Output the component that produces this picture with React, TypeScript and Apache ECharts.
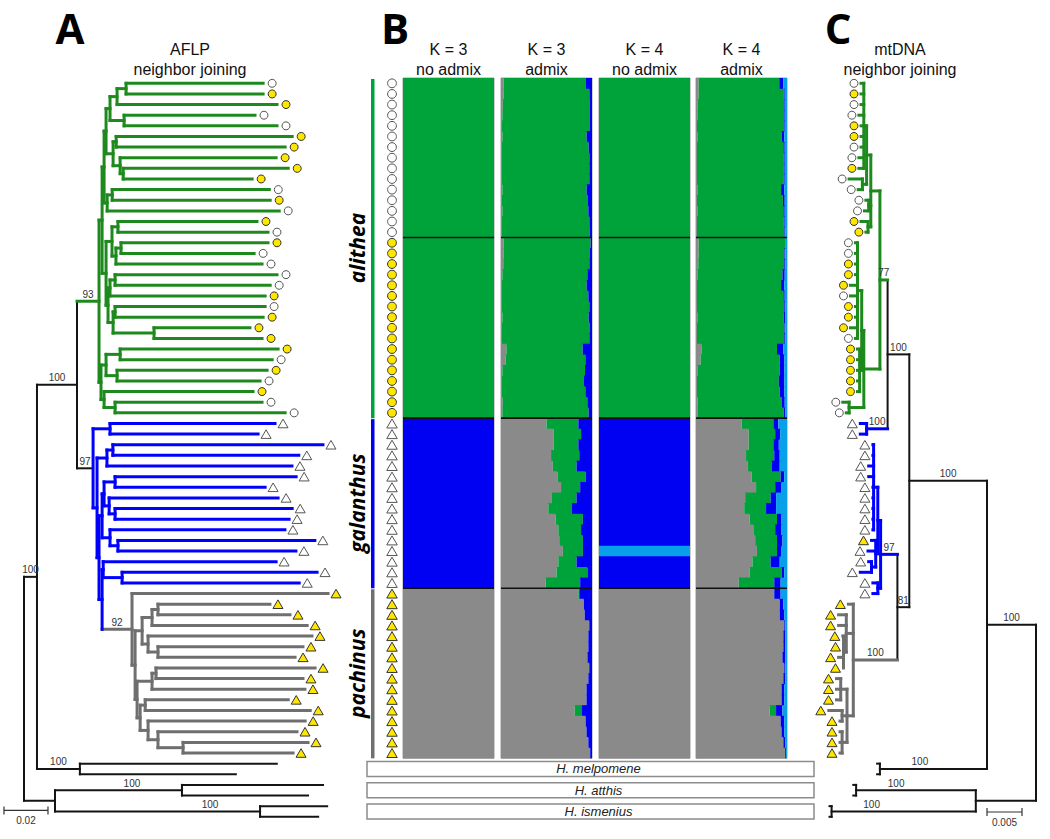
import React, { useEffect, useRef } from "react";
import * as echarts from "echarts";

// ---------------- colours ----------------
const TREE_COLORS = ["#141414", "#1e8a1e", "#0000ff", "#6f6f6f"]; // black, green, blue, gray
const STRUCT_COLORS = ["#00a33a", "#0000f2", "#8a8a8a", "#08a0e8"]; // green, blue, gray, light blue
const SIDE_COLORS = ["#00a33a", "#0000f2", "#707070"];
const YELLOW = "#ffe600";

// ---------------- Panel A: AFLP neighbour-joining tree (branch lengths x 10^-3) ----------------
// leaf codes: w = white circle, y = yellow circle, W = white triangle, Y = yellow triangle, o = outgroup
const aflpAli1 = "(((w0:62.3,y1:62.3):4.1,y2:72.7):3.2,(w3:59.5,w4:69.5):6.4)";
const aflpAli2 = "((y5:80.0,y6:76.8):1.4,(y7:70.9,(y8:75.0,y9:58.6):1.4):3.2)";
const aflpAli3 = "((w10:71.4,y11:71.8):2.3,w12:78.2)";
const aflpAli4 = "((y13:63.2,w14:68.2):2.7,((y15:66.8,w16:60.5):2.3,w17:66.4):1.8)";
const aflpAli5 = "((w18:73.6,w19:70.5):2.3,y20:70.5)";
const aflpAli6 = "((w21:68.2,y22:67.3):0.9,(y23:43.6,y24:49.1):18.6)";
const aflpAli7 = "((y25:71.8,w26:69.1):6.4,(y27:68.2,w28:65.0):5.0)";
const aflpAli8 = "(y29:67.7,(w30:66.8,w31:77.3):5.0)";
const aflpAlithea = `((((${aflpAli1}:1.8,${aflpAli2}:3.2):0.9,${aflpAli3}:1.4):0.9,(${aflpAli4}:2.7,(${aflpAli5}:0.9,${aflpAli6}:2.3):0.9):1.8):1.4,(${aflpAli7}:2.3,${aflpAli8}:1.4):0.9)93#g`;

const aflpGal1 = "(W32:75.0,W33:67.3)";
const aflpGal2 = "((W34:95.5,W35:84.5):2.7,W36:84.1)";
const aflpGal3 = "((W37:82.3,W38:68.2):5.0,(W39:76.8,(W40:80.5,W41:79.1):2.7):2.3)";
const aflpGal4 = "(W42:79.5,(W43:89.5,W44:80.9):3.6)";
const aflpGal5 = "(W45:78.6,(W46:88.6,W47:80.5):8.6)";
const aflpPac1 = "(((Y49:50.9,Y50:60.0):2.7,Y51:70.5):4.5,(Y52:74.5,(Y53:65.9,Y54:62.3):4.5):2.7)";
const aflpPac2 = "(((Y55:72.3,Y56:66.8):1.8,Y57:69.5):6.8,((Y58:65.0,Y59:75.0):2.3,(Y60:71.4,(Y61:63.2,(Y62:56.8,Y63:50.0):11.4):4.5):3.6):1.4)";
const aflpPachinus = `(Y48:89.1,(${aflpPac1}:3.2,${aflpPac2}:0.9):1.4)92#k`;
const aflpGalPach = `(${aflpGal1}:7.7,(${aflpGal2}:4.5,((${aflpGal3}:0.9,${aflpGal4}:3.6):1.4,(${aflpGal5}:0.5,${aflpPachinus}:13.6):1.4):0.9):1.8)97#b-`;
const aflpIngroup = `(${aflpAlithea}:10.0,${aflpGalPach}:7.3)100`;
const aflpTree = `((${aflpIngroup}:18.2,(o64:89.5,o65:70.9)100:19.5)100:5.9,((o66:64.1,o67:57.3)100:57.7,(o68:30.5,o69:26.4)100:93.2):14.1);`;

// ---------------- Panel C: mtDNA neighbour-joining tree (branch lengths x 10^-3) ----------------
const mtUpperA = "(w0:0.4,y1:0.4,w2:0.4,w3:0.7,y4:0.4,y5:0.4,w6:0.4,w7:0.7,y8:0.7)";
const mtUpperB = "(w9:1.9,w10:0.6)";
const mtUpperC = "(w11:0.4,w12:0.6)";
const mtUpperD = "(y13:1.0,y14:0.3)";
const mtLowerA = "(w15:0.3,w16:0.3,y17:0.3,y18:0.3,y19:1.0,w20:1.0,y21:0.3,y22:0.3,y23:1.0,w24:0.3)";
const mtLowerB = "(y25:0.3,y26:0.3,y27:0.3,y28:0.3,y29:0.3)";
const mtLowerC = "(w30:0.9,w31:0.4)";
const mtAlithea = `(((${mtUpperA}:0.4,${mtUpperB}:0.6):0.6,${mtUpperC}:0.3,${mtUpperD}:0.4):1.3,((${mtLowerA}:0.6,${mtLowerB}:0.3):0.3,${mtLowerC}:2.1):2.3)77#g`;
const mtBluePair = "(W32:0.9,W33:0.9)100#b";
const mtBlue1 = "(W34:0.1,W35:0.1,W36:0.7,W37:0.7,W38:0.1,W39:0.1,W40:0.1,W41:0.1,W42:0.1)";
const mtBlue2 = "(Y43:0.6,W44:1.1,(W45:0.4,W46:1.6):0.6)";
const mtBlue3 = "(W47:0.7,W48:0.7)";
const mtBlue = `((${mtBlue1}:0.6,${mtBlue2}:0.3):0.4,${mtBlue3}:0.4)97#b`;
const mtGray = "(Y49:0.7,(Y50:1.1,Y51:1.1,(Y52:0.1,Y53:0.0,Y54:0.7,Y55:0.0):0.4):1.0,((Y56:0.6,Y57:0.6,Y58:0.6):0.9,(Y59:1.9,Y60:0.3):0.7,(Y61:0.3,Y62:0.3,Y63:0.3):0.7):0.9)100#k";
const mtIngroup = `((${mtAlithea}:1.1,${mtBluePair}:3.0)100:3.1,(${mtBlue}:2.4,${mtGray}:6.3)81:1.7)100`;
const mtTree = `((${mtIngroup}:11.1,(o64:0.4,o65:0.4)100:15.3)100:7.0,((o66:0.4,o67:0.4)100:17.1,(o68:0.3,o69:0.3)100:20.6):8.6);`;

// ---------------- Panel B: STRUCTURE assignments (64 individuals) ----------------
const sampleMarkers = "wwwwwwwwwwwwwwwyyyyyyyyyyyyyyyyyWWWWWWWWWWWWWWWWYYYYYYYYYYYYYYYY";
const groupNames = ["alithea", "galanthus", "pachinus"];
const groupFirstRow = [0, 32, 48];
const groupLastRow = [31, 47, 63];
const structBreaks = [15, 32, 48];
// cluster: 0 green, 1 blue, 2 gray, 3 light blue
const k3NoAdmix = [
  0, 0, 0, 0, 0, 0, 0, 0, 0, 0, 0, 0, 0, 0, 0, 0, 0, 0, 0, 0, 0, 0, 0, 0, 0, 0, 0, 0, 0, 0, 0, 0,
  1, 1, 1, 1, 1, 1, 1, 1, 1, 1, 1, 1, 1, 1, 1, 1,
  2, 2, 2, 2, 2, 2, 2, 2, 2, 2, 2, 2, 2, 2, 2, 2,
];
const k4NoAdmix = [
  0, 0, 0, 0, 0, 0, 0, 0, 0, 0, 0, 0, 0, 0, 0, 0, 0, 0, 0, 0, 0, 0, 0, 0, 0, 0, 0, 0, 0, 0, 0, 0,
  1, 1, 1, 1, 1, 1, 1, 1, 1, 1, 1, 1, 3, 1, 1, 1,
  2, 2, 2, 2, 2, 2, 2, 2, 2, 2, 2, 2, 2, 2, 2, 2,
];
const k3AdmixGray = [
  0.03, 0.03, 0.02, 0.015, 0.01, 0.015, 0.01, 0.01, 0.01, 0.01, 0.015, 0.01, 0.015, 0.01, 0.01, 0.03,
  0.03, 0.025, 0.015, 0.01, 0.01, 0.01, 0.015, 0.01, 0.01, 0.06, 0.05, 0.015, 0.01, 0.01, 0.02, 0.015,
  0.5, 0.58, 0.58, 0.55, 0.57, 0.62, 0.66, 0.56, 0.52, 0.6, 0.63, 0.64, 0.68, 0.63, 0.61, 0.49,
  0.85, 0.91, 0.92, 0.97, 0.96, 0.96, 0.95, 0.97, 0.96, 0.94, 0.94, 0.81, 0.93, 0.94, 0.96, 0.98,
];
const k3AdmixBlue = [
  0.066, 0.029, 0.022, 0.022, 0.022, 0.059, 0.037, 0.029, 0.029, 0.029, 0.059, 0.044, 0.04, 0.029, 0.022, 0.015,
  0.022, 0.029, 0.051, 0.059, 0.04, 0.029, 0.037, 0.022, 0.029, 0.103, 0.073, 0.077, 0.088, 0.073, 0.051, 0.037,
  0.15, 0.12, 0.15, 0.14, 0.17, 0.07, 0.13, 0.17, 0.22, 0.1, 0.12, 0.1, 0.1, 0.17, 0.05, 0.13,
  0.14, 0.09, 0.08, 0.03, 0.04, 0.04, 0.05, 0.03, 0.04, 0.06, 0.06, 0.11, 0.07, 0.06, 0.04, 0.02,
];
const k4AdmixGray = [
  0.03, 0.03, 0.02, 0.015, 0.01, 0.015, 0.01, 0.01, 0.01, 0.01, 0.015, 0.01, 0.015, 0.01, 0.01, 0.03,
  0.03, 0.025, 0.015, 0.01, 0.01, 0.01, 0.015, 0.01, 0.01, 0.06, 0.05, 0.015, 0.01, 0.01, 0.02, 0.015,
  0.5, 0.58, 0.58, 0.55, 0.57, 0.61, 0.66, 0.54, 0.53, 0.59, 0.63, 0.65, 0.67, 0.62, 0.59, 0.47,
  0.85, 0.92, 0.92, 0.97, 0.96, 0.96, 0.95, 0.97, 0.96, 0.94, 0.94, 0.81, 0.93, 0.94, 0.96, 0.98,
];
const k4AdmixBlue = [
  0.045, 0.01, 0.008, 0.008, 0.008, 0.03, 0.015, 0.01, 0.01, 0.01, 0.035, 0.02, 0.015, 0.01, 0.008, 0.005,
  0.008, 0.01, 0.025, 0.035, 0.015, 0.01, 0.015, 0.008, 0.01, 0.07, 0.05, 0.05, 0.06, 0.05, 0.03, 0.015,
  0.055, 0.055, 0.06, 0.06, 0.09, 0.04, 0.07, 0.06, 0.11, 0.05, 0.07, 0.06, 0.05, 0.1, 0.03, 0.07,
  0.07, 0.04, 0.05, 0.01, 0.02, 0.02, 0.03, 0.01, 0.02, 0.03, 0.03, 0.07, 0.04, 0.03, 0.02, 0.01,
];
const k4AdmixLight = [
  0.04, 0.025, 0.025, 0.025, 0.025, 0.03, 0.025, 0.025, 0.025, 0.025, 0.03, 0.025, 0.025, 0.025, 0.02, 0.015,
  0.02, 0.02, 0.025, 0.03, 0.025, 0.02, 0.02, 0.02, 0.02, 0.04, 0.03, 0.03, 0.03, 0.03, 0.025, 0.02,
  0.095, 0.075, 0.09, 0.08, 0.08, 0.03, 0.06, 0.12, 0.12, 0.06, 0.06, 0.05, 0.06, 0.08, 0.03, 0.07,
  0.07, 0.04, 0.03, 0.02, 0.02, 0.02, 0.02, 0.02, 0.02, 0.03, 0.03, 0.05, 0.03, 0.03, 0.02, 0.01,
];
const structTitles = ["K = 3", "K = 3", "K = 4", "K = 4"];
const structSubtitles = ["no admix", "admix", "no admix", "admix"];
const outgroupNames = ["H. melpomene", "H. atthis", "H. ismenius"];
const outgroupRows = [64.5, 66.5, 68.5];

// scale bars: [start, length, row]
const scaleA = [-9.1, 20, 68.4];
const scaleC = [2, 5, 68.55];

// ---------------- tree helpers ----------------
type TNode = { name: string; len: number; label: string; children: TNode[]; depth: number; y: number };

function parseNewick(src: string): TNode {
  let i = 0;
  const stop = (ch: string) => ch === ":" || ch === "," || ch === ")" || ch === ";" || ch === "(";
  const read = () => {
    let t = "";
    while (i < src.length && !stop(src[i])) t += src[i++];
    return t.trim();
  };
  const node = (): TNode => {
    const n: TNode = { name: "", len: 0, label: "", children: [], depth: 0, y: 0 };
    if (src[i] === "(") {
      i++;
      n.children.push(node());
      while (src[i] === ",") {
        i++;
        n.children.push(node());
      }
      i++;
      n.label = read();
    } else n.name = read();
    if (src[i] === ":") {
      i++;
      n.len = parseFloat(read());
    }
    return n;
  };
  return node();
}

const COLOR_KEYS: Record<string, number> = { g: 1, b: 2, k: 3 };

function layoutTree(src: string) {
  const root = parseNewick(src);
  const segs: number[][] = [];
  const tips: number[][] = [];
  const sups: number[][] = [];
  const supTexts: string[] = [];
  let row = 0;
  const walk = (n: TNode, parent: TNode | null, parentColor: number) => {
    const [sup, tag] = n.label.split("#");
    let color = parentColor;
    let inColor = parentColor;
    if (tag) {
      color = COLOR_KEYS[tag[0]];
      inColor = tag.endsWith("-") ? parentColor : color;
    }
    n.depth = parent ? parent.depth + n.len : 0;
    if (!n.children.length) {
      n.y = row++;
      const code = "wyWY".indexOf(n.name[0]);
      if (code >= 0) tips.push([n.depth, n.y, code]);
    } else {
      n.children.forEach((c) => walk(c, n, color));
      const first = n.children[0];
      const last = n.children[n.children.length - 1];
      n.y = (first.y + last.y) / 2;
      segs.push([n.depth, first.y, n.depth, last.y, color]);
    }
    if (parent) {
      segs.push([parent.depth, n.y, n.depth, n.y, inColor]);
      if (sup) {
        sups.push([parent.depth, n.depth, n.y]);
        supTexts.push(sup);
      }
    }
  };
  walk(root, null, 0);
  segs.sort((a, b) => (a[4] === 0 ? 0 : 1) - (b[4] === 0 ? 0 : 1));
  return { segs, tips, sups, supTexts };
}

function markerEl(code: number, cx: number, cy: number, big: boolean): any {
  const yellow = code === 1 || code === 3;
  const fill = yellow ? YELLOW : "#ffffff";
  const stroke = yellow ? "#333333" : "#555555";
  if (code <= 1) {
    return { type: "circle", shape: { cx, cy, r: big ? 4.4 : 4.0 }, style: { fill, stroke, lineWidth: 1 } };
  }
  const w = big ? 10.5 : 10;
  const h = big ? 9 : 8.6;
  return {
    type: "polygon",
    shape: { points: [[cx, cy - h / 2], [cx + w / 2, cy + h / 2], [cx - w / 2, cy + h / 2]] },
    style: { fill, stroke, lineWidth: 1, lineJoin: "miter" },
  };
}

const FONT = "Liberation Sans, Arial, Helvetica, sans-serif";

function treeSeries(src: string, axis: number, markerOffsets: number[], labelReach: number, scale: number[], scaleText: string) {
  const { segs, tips, sups, supTexts } = layoutTree(src);
  const labelData = sups.map(([from, to, y]) => [Math.max((from + to) / 2, to - labelReach), y]);
  return [
    {
      type: "custom",
      xAxisIndex: axis,
      yAxisIndex: axis,
      silent: true,
      data: segs,
      encode: { x: [0, 2], y: [1, 3] },
      renderItem: (_p: any, api: any) => {
        const a = api.coord([api.value(0), api.value(1)]);
        const b = api.coord([api.value(2), api.value(3)]);
        const c = api.value(4) as number;
        return {
          type: "line",
          shape: { x1: a[0], y1: a[1], x2: b[0], y2: b[1] },
          style: { stroke: TREE_COLORS[c], lineWidth: c === 0 ? 2 : 3, lineCap: "square" },
        };
      },
    },
    {
      type: "custom",
      xAxisIndex: axis,
      yAxisIndex: axis,
      silent: true,
      data: tips,
      encode: { x: 0, y: 1 },
      renderItem: (_p: any, api: any) => {
        const p = api.coord([api.value(0), api.value(1)]);
        const code = api.value(2) as number;
        return markerEl(code, p[0] + markerOffsets[code], p[1], false);
      },
    },
    {
      type: "custom",
      xAxisIndex: axis,
      yAxisIndex: axis,
      silent: true,
      data: labelData,
      encode: { x: 0, y: 1 },
      renderItem: (p: any, api: any) => {
        const c = api.coord([api.value(0), api.value(1)]);
        return {
          type: "text",
          x: c[0],
          y: c[1] - 2,
          style: { text: supTexts[p.dataIndex], fill: "#333", fontSize: 10, fontFamily: FONT, align: "center", verticalAlign: "bottom" },
        };
      },
    },
    {
      type: "custom",
      xAxisIndex: axis,
      yAxisIndex: axis,
      silent: true,
      data: [[scale[0], scale[0] + scale[1], scale[2]]],
      encode: { x: [0, 1], y: 2 },
      renderItem: (_p: any, api: any) => {
        const a = api.coord([api.value(0), api.value(2)]);
        const b = api.coord([api.value(1), api.value(2)]);
        const st = { stroke: "#333", lineWidth: 1.2 };
        return {
          type: "group",
          children: [
            { type: "line", shape: { x1: a[0], y1: a[1], x2: b[0], y2: b[1] }, style: st },
            { type: "line", shape: { x1: a[0], y1: a[1] - 4, x2: a[0], y2: a[1] + 4 }, style: st },
            { type: "line", shape: { x1: b[0], y1: b[1] - 4, x2: b[0], y2: b[1] + 4 }, style: st },
            {
              type: "text",
              x: (a[0] + b[0]) / 2,
              y: a[1] + 5,
              style: { text: scaleText, fill: "#333", fontSize: 10, fontFamily: FONT, align: "center", verticalAlign: "top" },
            },
          ],
        };
      },
    },
  ];
}

function stackRow(row: number, parts: number[][]): number[][] {
  let acc = 0;
  const out: number[][] = [];
  for (const [cluster, v] of parts) {
    const val = Math.max(0, v);
    if (val > 0.0005) out.push([row, acc, acc + val, cluster]);
    acc += val;
  }
  return out;
}

function buildOption() {
  const colLefts = [403, 501, 599, 696];
  const colWidth = 91;
  const top = 78;
  const rowPx = 10.63;
  const fullH = 70 * rowPx;
  const structH = 64 * rowPx;

  const grids: any[] = [
    { left: 2, top, width: 352, height: fullH },
    ...colLefts.map((l) => ({ left: l, top, width: colWidth, height: structH, show: true, borderColor: "#9a9a9a", borderWidth: 1 })),
    { left: 392, top, width: 20, height: fullH },
    { left: 367, top, width: 447, height: fullH },
    { left: 800, top, width: 236, height: fullH },
  ];
  const xAxes: any[] = [
    { type: "value", gridIndex: 0, min: -10, max: 150, show: false },
    ...colLefts.map((_, i) => ({ type: "value", gridIndex: i + 1, min: 0, max: 1, show: false })),
    { type: "value", gridIndex: 5, min: 0, max: 1, show: false },
    { type: "value", gridIndex: 6, min: 0, max: 1, show: false },
    { type: "value", gridIndex: 7, min: 0, max: 236 / 7, inverse: true, show: false },
  ];
  const yAxes: any[] = grids.map((_, i) => ({
    type: "value",
    gridIndex: i,
    inverse: true,
    min: -0.5,
    max: i >= 1 && i <= 4 ? 63.5 : 69.5,
    show: false,
  }));

  // structure columns
  const cols: number[][][] = [[], [], [], []];
  for (let r = 0; r < 64; r++) {
    cols[0].push([r, 0, 1, k3NoAdmix[r]]);
    cols[2].push([r, 0, 1, k4NoAdmix[r]]);
    cols[1].push(...stackRow(r, [[2, k3AdmixGray[r]], [0, 1 - k3AdmixGray[r] - k3AdmixBlue[r]], [1, k3AdmixBlue[r]]]));
    cols[3].push(
      ...stackRow(r, [
        [2, k4AdmixGray[r]],
        [0, 1 - k4AdmixGray[r] - k4AdmixBlue[r] - k4AdmixLight[r]],
        [1, k4AdmixBlue[r]],
        [3, k4AdmixLight[r]],
      ])
    );
  }

  const series: any[] = [];
  series.push(...treeSeries(aflpTree, 0, [9, 9, 8, 8], 50 / 2.2, scaleA, "0.02"));
  series.push(...treeSeries(mtTree, 7, [-7, -7, -8, -8], 40 / 7, scaleC, "0.005"));

  cols.forEach((data, i) => {
    series.push({
      type: "custom",
      xAxisIndex: i + 1,
      yAxisIndex: i + 1,
      silent: true,
      data,
      encode: { x: [1, 2], y: 0 },
      renderItem: (_p: any, api: any) => {
        const row = api.value(0) as number;
        const a = api.coord([api.value(1), row - 0.5]);
        const b = api.coord([api.value(2), row + 0.5]);
        const c = STRUCT_COLORS[api.value(3) as number];
        const pad = row < 63 ? 0.8 : 0;
        return {
          type: "rect",
          shape: { x: a[0], y: a[1], width: b[0] - a[0], height: b[1] - a[1] + pad },
          style: { fill: c },
        };
      },
    });
    series.push({
      type: "custom",
      xAxisIndex: i + 1,
      yAxisIndex: i + 1,
      silent: true,
      data: structBreaks.map((b) => [b - 0.5]),
      encode: { y: 0 },
      renderItem: (_p: any, api: any) => {
        const a = api.coord([0, api.value(0)]);
        const b = api.coord([1, api.value(0)]);
        return { type: "line", shape: { x1: a[0], y1: a[1], x2: b[0], y2: b[1] }, style: { stroke: "#111", lineWidth: 1.6 } };
      },
    });
  });

  // side: markers, coloured bars, group labels
  const codes = sampleMarkers.split("").map((ch) => "wyWY".indexOf(ch));
  series.push({
    type: "custom",
    xAxisIndex: 5,
    yAxisIndex: 5,
    silent: true,
    data: codes.map((c, r) => [0, r, c]),
    encode: { x: 0, y: 1 },
    renderItem: (_p: any, api: any) => {
      const p = api.coord([api.value(0), api.value(1)]);
      return markerEl(api.value(2) as number, p[0], p[1], true);
    },
  });
  series.push({
    type: "custom",
    xAxisIndex: 5,
    yAxisIndex: 5,
    silent: true,
    data: groupNames.map((_, g) => [0, groupFirstRow[g], groupLastRow[g], g]),
    encode: { x: 0, y: [1, 2] },
    renderItem: (_p: any, api: any) => {
      const a = api.coord([api.value(0), api.value(1) - 0.5]);
      const b = api.coord([api.value(0), api.value(2) + 0.5]);
      const g = api.value(3) as number;
      return {
        type: "group",
        children: [
          { type: "rect", shape: { x: a[0] - 21, y: a[1] + 1, width: 3.5, height: b[1] - a[1] - 1 }, style: { fill: SIDE_COLORS[g] } },
          {
            type: "text",
            x: a[0] - 35,
            y: (a[1] + b[1]) / 2,
            rotation: Math.PI / 2,
            style: {
              text: groupNames[g],
              fill: "#000",
              fontSize: 21,
              fontWeight: "bold",
              fontStyle: "italic",
              fontFamily: "Open Sans, DejaVu Sans, sans-serif",
              align: "center",
              verticalAlign: "middle",
            },
          },
        ],
      };
    },
  });

  // outgroup boxes
  series.push({
    type: "custom",
    xAxisIndex: 6,
    yAxisIndex: 6,
    silent: true,
    data: outgroupRows.map((r) => [0, 1, r]),
    encode: { x: [0, 1], y: 2 },
    renderItem: (p: any, api: any) => {
      const a = api.coord([api.value(0), api.value(2) - 0.7]);
      const b = api.coord([api.value(1), api.value(2) + 0.7]);
      return {
        type: "group",
        children: [
          { type: "rect", shape: { x: a[0], y: a[1], width: b[0] - a[0], height: b[1] - a[1] }, style: { fill: "#fff", stroke: "#8c8c8c", lineWidth: 1.5 } },
          {
            type: "text",
            x: (a[0] + b[0]) / 2 + 8,
            y: (a[1] + b[1]) / 2,
            style: { text: outgroupNames[p.dataIndex], fill: "#222", fontSize: 13, fontStyle: "italic", fontFamily: FONT, align: "center", verticalAlign: "middle" },
          },
        ],
      };
    },
  });

  const txt = (text: string, x: number, y: number, size: number, weight = "normal") => ({
    type: "text",
    x,
    y,
    silent: true,
    style: { text, fill: "#111", fontSize: size, fontWeight: weight, fontFamily: FONT, align: "center", verticalAlign: "middle" },
  });
  const bigLetter = (text: string, x: number) => ({
    type: "text",
    x,
    y: 27,
    silent: true,
    style: { text, fill: "#000", fontSize: 42, fontWeight: "bold", fontFamily: "Open Sans, DejaVu Sans, sans-serif", align: "center", verticalAlign: "middle" },
  });
  const graphic: any[] = [
    bigLetter("A", 70),
    bigLetter("B", 395),
    bigLetter("C", 838),
    txt("AFLP", 190, 49, 16),
    txt("neighbor joining", 190, 69, 16),
    txt("mtDNA", 900, 49, 16),
    txt("neighbor joining", 900, 69, 16),
    ...structTitles.map((t, i) => txt(t, colLefts[i] + colWidth / 2, 49, 16)),
    ...structSubtitles.map((t, i) => txt(t, colLefts[i] + colWidth / 2, 69, 16)),
  ];

  return {
    animation: false,
    backgroundColor: "#ffffff",
    grid: grids,
    xAxis: xAxes,
    yAxis: yAxes,
    series,
    graphic,
  };
}

export default function App() {
  const ref = useRef<HTMLDivElement>(null);
  useEffect(() => {
    if (!ref.current) return;
    const chart = echarts.init(ref.current, null, { renderer: "svg" });
    chart.setOption(buildOption() as any);
    return () => chart.dispose();
  }, []);
  return <div ref={ref} style={{ position: "fixed", left: 0, top: 0, width: 1050, height: 839, background: "#fff" }} />;
}
